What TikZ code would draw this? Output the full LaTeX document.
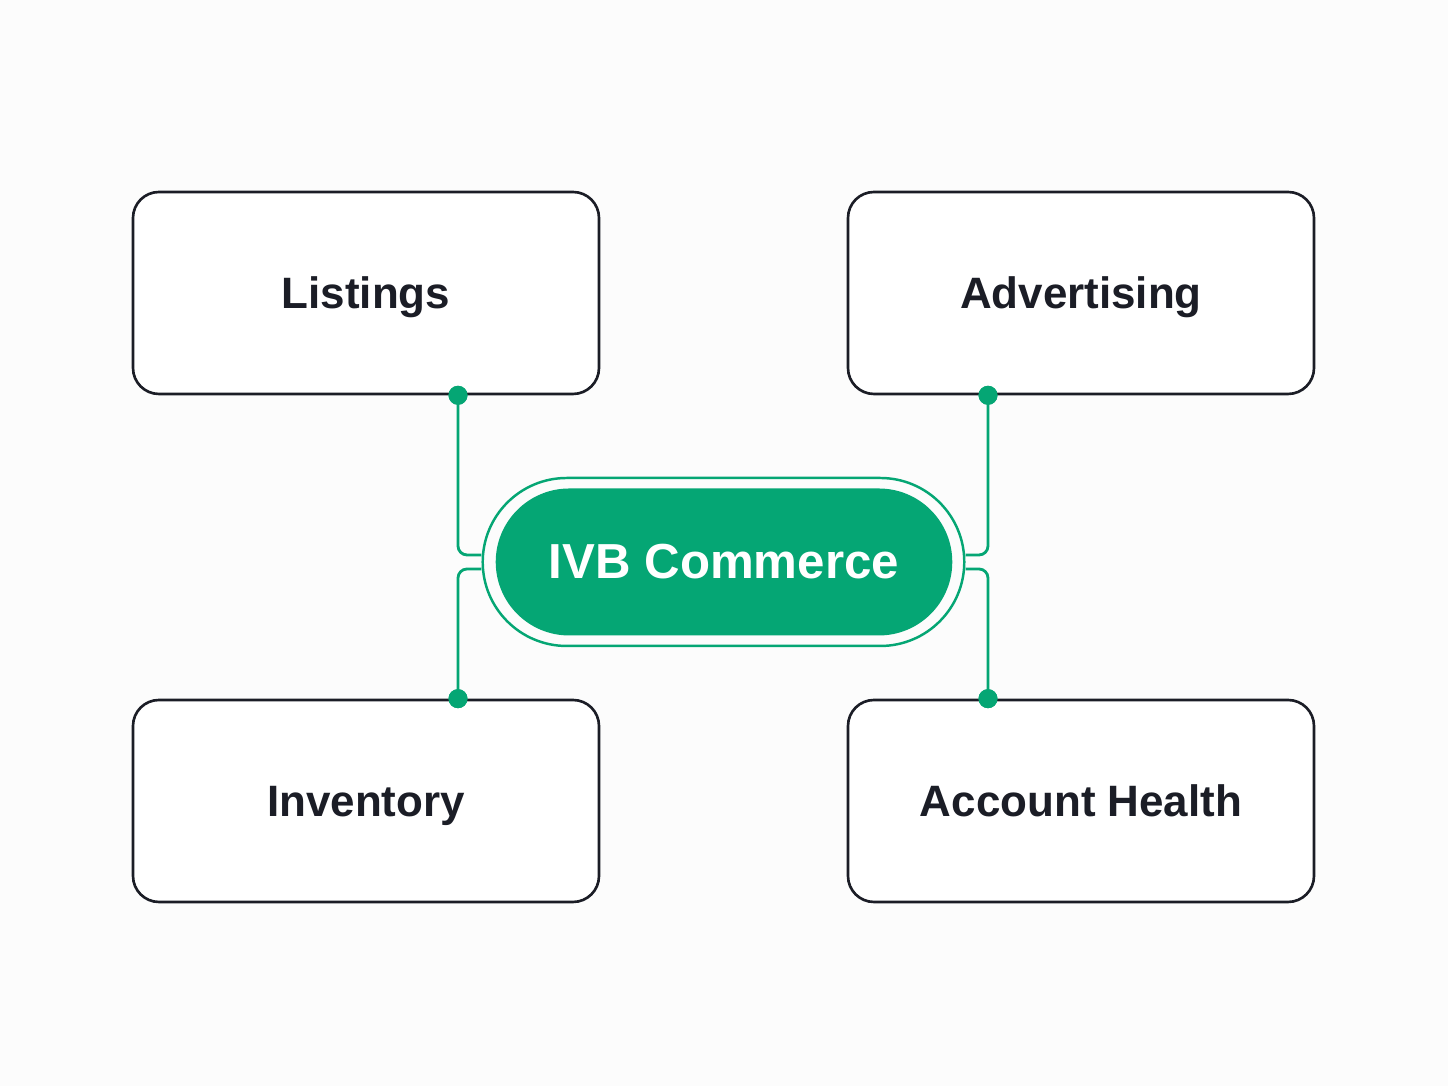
\documentclass[tikz,border=0pt]{standalone}
\usepackage{fontspec}
\setmainfont{Liberation Sans}
\usetikzlibrary{positioning, calc, shapes.misc}
\definecolor{ivbgreen}{HTML}{05A674}
\definecolor{inkdark}{HTML}{1B1D26}
\definecolor{paper}{HTML}{FCFCFC}

\begin{document}
\begin{tikzpicture}[node distance=2cm,on grid,
	area/.style={draw=inkdark, line width=0.75pt, fill=white, rounded corners=0.26cm,
		minimum width=4.66cm, minimum height=2.02cm, text=inkdark,
		font=\fontsize{12.5}{15}\selectfont\bfseries, text height=0.9em, text depth=0pt},
	hub/.style={rounded rectangle, fill=ivbgreen, minimum width=4.80cm, minimum height=1.47cm,
		text=white, font=\fontsize{14}{17}\selectfont\bfseries, text height=0.95em, text depth=0pt},
	ring/.style={rounded rectangle, draw=ivbgreen, line width=0.7pt, minimum width=5.05cm, minimum height=1.68cm},
	link/.style={draw=ivbgreen, line width=0.8pt, rounded corners=0.09cm},
	pin/.style={circle, fill=ivbgreen, inner sep=0pt, minimum size=0.19cm}]
	
	%Background and frame
	\fill[paper] (0,0) rectangle (14.48,10.86);
	
	%Center hub
	\node[ring] (hubring) at (7.235,5.24) {};
	\node[hub] (hub) at (7.24,5.24) {IVB Commerce};
	
	%Topic boxes
	\node[area] (list) [above left=2.69cm and 3.58cm of hub] {Listings};
	\node[area] (adv) [above right=2.69cm and 3.57cm of hub] {Advertising};
	\node[area] (inv) [below left=2.39cm and 3.58cm of hub] {Inventory};
	\node[area] (acc) [below right=2.39cm and 3.57cm of hub] {Account Health};
	
	%Pins on the boxes
	\node[pin] (listpin) at ([xshift=0.92cm]list.south) {};
	\node[pin] (advpin) at ([xshift=-0.93cm]adv.south) {};
	\node[pin] (invpin) at ([xshift=0.92cm]inv.north) {};
	\node[pin] (accpin) at ([xshift=-0.93cm]acc.north) {};
	
	%Links to the hub
	\draw[link] (listpin.center) |- ($(hubring.west)+(0,0.07)$);
	\draw[link] (invpin.center) |- ($(hubring.west)+(0,-0.07)$);
	\draw[link] (advpin.center) |- ($(hubring.east)+(0,0.07)$);
	\draw[link] (accpin.center) |- ($(hubring.east)+(0,-0.07)$);
	
	%Pins again, above the links
	\foreach \p in {listpin, advpin, invpin, accpin}
		\fill[ivbgreen] (\p) circle (0.095);
	
\end{tikzpicture}
\end{document}
